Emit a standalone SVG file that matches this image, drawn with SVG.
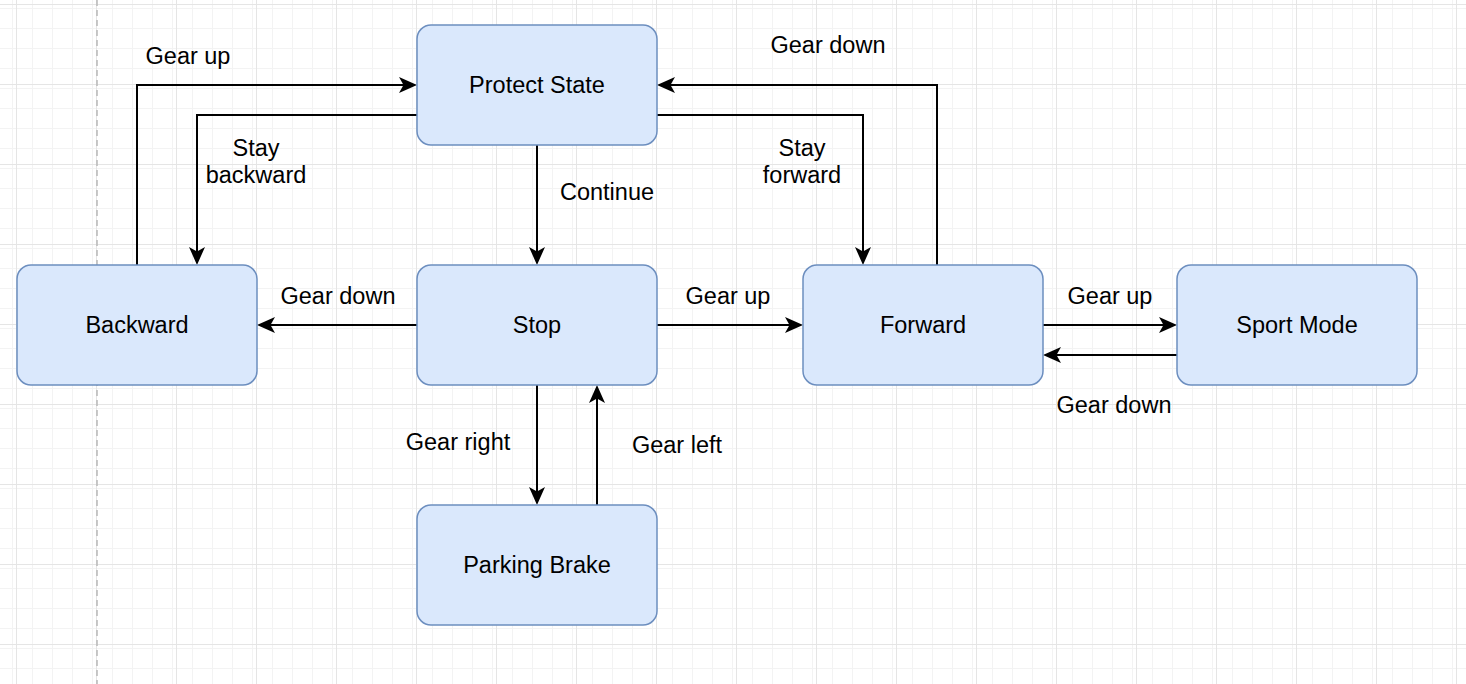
<svg xmlns="http://www.w3.org/2000/svg" width="1466" height="684" viewBox="0 0 1466 684">
  <style>
    .node rect { fill: #dae8fc; stroke: #6c8ebf; stroke-width: 1.5; }
    text { font-family: "Liberation Sans", Arial, Helvetica, sans-serif; font-size: 23.5px; fill: #000; text-anchor: middle; }
    .edge { fill: none; stroke: #000; stroke-width: 2; marker-end: url(#arrow); }
  </style>
  <defs>
    <pattern id="minor" patternUnits="userSpaceOnUse" x="16" y="4" width="20" height="20">
      <path d="M0.5,0 V20 M0,0.5 H20" stroke="#f3f3f3" stroke-width="1" fill="none"/>
    </pattern>
    <pattern id="major" patternUnits="userSpaceOnUse" x="16" y="4" width="80" height="80">
      <rect width="80" height="80" fill="url(#minor)"/>
      <path d="M0.5,0 V80 M0,0.5 H80" stroke="#e5e5e5" stroke-width="1" fill="none"/>
    </pattern>
    <marker id="arrow" markerUnits="userSpaceOnUse" viewBox="0 0 18 16" refX="13" refY="8" markerWidth="18" markerHeight="16" orient="auto">
      <path d="M0,0 L18,8 L0,16 L4.5,8 Z" fill="#000"/>
    </marker>
  </defs>

  <rect x="0" y="0" width="1466" height="684" fill="#ffffff"/>
  <rect x="0" y="0" width="1466" height="684" fill="url(#major)"/>
  <line x1="97" y1="0" x2="97" y2="684" stroke="#b8b8b8" stroke-width="1.5" stroke-dasharray="6 4"/>

  <g id="connectors">
    <path class="edge" d="M137,265 V85 H412"/>
    <path class="edge" d="M417,115 H197 V260"/>
    <path class="edge" d="M537,145 V260"/>
    <path class="edge" d="M657,115 H863 V260"/>
    <path class="edge" d="M937,265 V85 H662"/>
    <path class="edge" d="M417,325 H262"/>
    <path class="edge" d="M657,325 H798"/>
    <path class="edge" d="M1043,325 H1172"/>
    <path class="edge" d="M1177,355 H1048"/>
    <path class="edge" d="M537,385 V500"/>
    <path class="edge" d="M597,505 V390"/>

    <text x="188" y="64">Gear up</text>
    <text x="256" y="156">Stay</text>
    <text x="256" y="183">backward</text>
    <text x="607" y="200">Continue</text>
    <text x="828" y="53">Gear down</text>
    <text x="802" y="156">Stay</text>
    <text x="802" y="183">forward</text>
    <text x="338" y="304">Gear down</text>
    <text x="728" y="304">Gear up</text>
    <text x="1110" y="304">Gear up</text>
    <text x="1114" y="413">Gear down</text>
    <text x="458" y="450">Gear right</text>
    <text x="677" y="453">Gear left</text>
  </g>

  <g id="protect-state" class="node">
    <rect x="417" y="25" width="240" height="120" rx="14" ry="14"/>
    <text x="537" y="93">Protect State</text>
  </g>
  <g id="backward" class="node">
    <rect x="17" y="265" width="240" height="120" rx="14" ry="14"/>
    <text x="137" y="333">Backward</text>
  </g>
  <g id="stop" class="node">
    <rect x="417" y="265" width="240" height="120" rx="14" ry="14"/>
    <text x="537" y="333">Stop</text>
  </g>
  <g id="forward" class="node">
    <rect x="803" y="265" width="240" height="120" rx="14" ry="14"/>
    <text x="923" y="333">Forward</text>
  </g>
  <g id="sport-mode" class="node">
    <rect x="1177" y="265" width="240" height="120" rx="14" ry="14"/>
    <text x="1297" y="333">Sport Mode</text>
  </g>
  <g id="parking-brake" class="node">
    <rect x="417" y="505" width="240" height="120" rx="14" ry="14"/>
    <text x="537" y="573">Parking Brake</text>
  </g>
</svg>
